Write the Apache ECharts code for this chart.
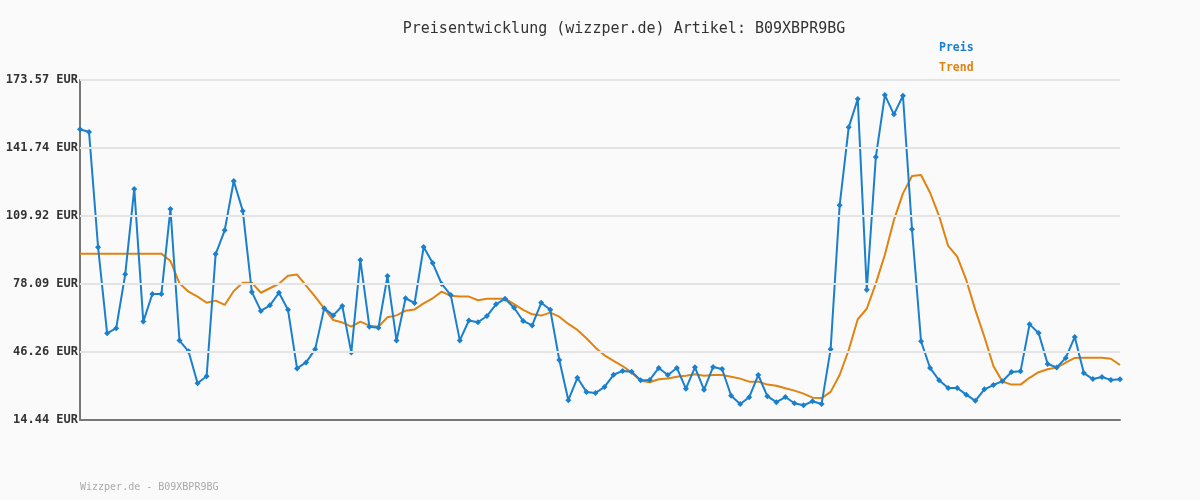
<!DOCTYPE html>
<html><head><meta charset="utf-8">
<script src="https://cdn.jsdelivr.net/npm/echarts@6/dist/echarts.min.js"></script>
<style>html,body{margin:0;padding:0;background:#fafafa}#c{width:1200px;height:500px}</style>
</head><body><div id="c"></div>
<script>
const preis = [150.5,149.2,95.3,55.0,57.4,82.6,122.6,60.5,73.4,73.4,
113.2,51.6,46.6,31.6,34.9,92.1,103.2,126.3,112.3,74.4,
65.5,68.1,74.0,66.0,38.6,41.4,47.5,66.7,63.4,67.8,
46.0,89.3,58.1,57.6,81.8,51.6,71.4,69.2,95.4,87.9,
78.1,72.9,51.7,61.0,60.2,63.1,68.6,71.2,67.0,60.8,
58.7,69.3,66.0,42.5,23.7,34.2,27.6,27.1,29.9,35.6,
37.4,37.0,33.0,33.2,38.8,35.5,38.8,29.1,39.1,28.6,
39.2,38.3,25.8,21.9,25.1,35.5,25.6,22.8,25.2,22.3,
21.3,23.2,21.9,47.5,114.9,151.4,164.7,75.4,137.5,166.5,
157.5,166.2,103.7,51.3,38.8,33.0,29.4,29.4,26.3,23.4,
28.8,30.8,32.6,36.9,37.2,59.2,55.2,40.7,39.0,43.5,
53.3,36.4,33.6,34.6,33.2,33.5];
const trend = [92.3,92.3,92.3,92.3,92.3,92.3,92.3,92.3,92.3,92.3,
88.9,78.4,74.5,72.2,69.3,70.3,68.3,74.8,78.7,78.7,
74.0,76.1,78.2,82.0,82.5,77.3,72.2,66.7,61.2,60.1,
58.1,60.5,58.6,58.1,62.5,63.4,65.6,66.2,69.0,71.4,
74.5,72.6,72.2,72.2,70.5,71.2,71.2,71.2,68.7,66.0,
63.9,63.3,64.7,62.8,59.4,56.6,52.7,48.3,44.7,42.1,
39.7,36.6,32.8,32.1,33.5,33.9,34.7,35.2,35.8,35.2,
35.5,35.5,34.7,33.8,32.4,32.4,31.0,30.5,29.3,28.2,
26.8,24.9,24.7,27.6,35.5,47.2,61.6,66.5,78.4,91.8,
108.0,120.5,128.6,129.1,120.8,109.9,95.9,90.9,80.0,66.0,
53.4,39.7,32.4,31.0,31.0,34.2,36.8,38.2,39.0,41.3,
43.5,43.6,43.6,43.6,43.1,40.2];
const categories = preis.map((_, i) => String(i + 1));
const yTicks = [14.44, 46.26, 78.09, 109.92, 141.74, 173.57];
const title = 'Preisentwicklung (wizzper.de) Artikel: B09XBPR9BG';
const footer = 'Wizzper.de - B09XBPR9BG';

const mono = '"DejaVu Sans Mono", monospace';
const chart = echarts.init(document.getElementById('c'));
chart.setOption({
  backgroundColor: '#fafafa',
  animation: false,
  title: {
    text: title, left: 619, top: 17, textAlign: 'center',
    textStyle: { fontFamily: mono, fontSize: 15, fontWeight: 'normal', color: '#333' }
  },
  legend: {
    orient: 'vertical', left: 934, top: 37, itemWidth: 0, itemHeight: 0, itemGap: 8,
    icon: 'none',
    data: [
      { name: 'Preis', textStyle: { color: '#1a7fcc' } },
      { name: 'Trend', textStyle: { color: '#e08310' } }
    ],
    textStyle: { fontFamily: mono, fontSize: 11.5, fontWeight: 'bold', padding: [0,0,0,-5] }
  },
  graphic: [{
    type: 'text', left: 80, top: 482,
    style: { text: footer, font: '10px ' + mono, fill: '#aaa' }
  }],
  grid: { left: 80, right: 80, top: 80, bottom: 80 },
  xAxis: {
    type: 'category', data: categories, boundaryGap: false,
    axisLine: { lineStyle: { color: '#777', width: 2 } },
    axisTick: { show: false }, axisLabel: { show: false }, splitLine: { show: false }
  },
  yAxis: {
    type: 'value', min: yTicks[0], max: yTicks[yTicks.length - 1],
    axisLine: { show: true, lineStyle: { color: '#777', width: 2 } },
    axisTick: { show: false, customValues: yTicks },
    axisLabel: {
      customValues: yTicks, margin: 2,
      formatter: v => v.toFixed(2) + ' EUR',
      fontFamily: mono, fontSize: 12, fontWeight: 'bold', color: '#333'
    },
    splitLine: { show: false }
  },
  series: [
    {
      name: 'Preis', type: 'line', data: preis,
      symbol: 'diamond', symbolSize: 6, showSymbol: true, showAllSymbol: true,
      lineStyle: { color: '#1a7fcc', width: 2 },
      itemStyle: { color: '#1a7fcc' },
      markLine: {
        silent: true, symbol: 'none', label: { show: false },
        lineStyle: { color: '#e4e4e4', width: 2, type: 'solid' },
        data: yTicks.slice(1).map(v => ({ yAxis: v }))
      },
      z: 3
    },
    {
      name: 'Trend', type: 'line', data: trend, symbol: 'none',
      lineStyle: { color: '#e08310', width: 2 },
      itemStyle: { color: '#e08310' },
      z: 2
    }
  ]
});
</script></body></html>
